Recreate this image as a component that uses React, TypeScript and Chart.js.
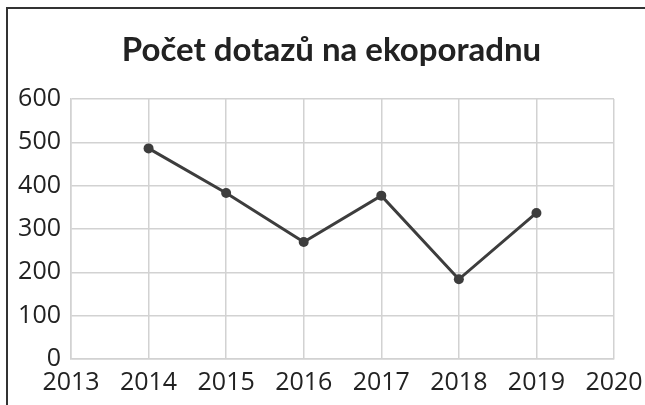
import React, { useEffect, useRef } from "react";
import { Chart, registerables } from "chart.js";

Chart.register(...registerables);

const TITLE = "Počet dotazů na ekoporadnu";
const years = [2014, 2015, 2016, 2017, 2018, 2019];
const queries = [486, 383, 270, 377, 184, 337];
const X_MIN = 2013;
const X_MAX = 2020;
const Y_MIN = 0;
const Y_MAX = 600;
const Y_STEP = 100;

const FONT_FAMILY = "'Open Sans', sans-serif";

const titlePlugin = {
  id: "customTitle",
  afterDraw(chart: any) {
    const { ctx, chartArea } = chart;
    ctx.save();
    ctx.font = "bold 33px Lato";
    ctx.fillStyle = "#222";
    ctx.textAlign = "center";
    ctx.textBaseline = "alphabetic";
    ctx.fillText(TITLE, (chartArea.left + chartArea.right) / 2 - 11, 61);
    ctx.restore();
  },
};

export default function App() {
  const ref = useRef<HTMLCanvasElement | null>(null);

  useEffect(() => {
    if (!ref.current) return;
    const chart = new Chart(ref.current, {
      type: "line",
      data: {
        datasets: [
          {
            data: years.map((y, i) => ({ x: y, y: queries[i] })),
            borderColor: "#3d3d3d",
            backgroundColor: "#3d3d3d",
            borderWidth: 3,
            pointRadius: 5,
            pointBackgroundColor: "#3d3d3d",
            pointBorderWidth: 0,
            tension: 0,
          },
        ],
      },
      options: {
        animation: false,
        responsive: false,
        maintainAspectRatio: false,
        layout: { padding: { left: 17, right: 31, top: 99, bottom: 9 } },
        plugins: {
          legend: { display: false },
          title: { display: false },
          tooltip: { enabled: false },
        },
        scales: {
          x: {
            type: "linear",
            min: X_MIN,
            max: X_MAX,
            ticks: {
              stepSize: 1,
              color: "#222",
              font: { family: FONT_FAMILY, size: 25 },
              padding: 9,
              maxRotation: 0,
              autoSkip: false,
              callback: (v: any) => String(v),
            },
            grid: { color: "#d2d2d2", lineWidth: 1.5, drawTicks: false },
            border: { display: true, color: "#d2d2d2", width: 1.5 },
            afterFit: (scale: any) => {
              scale.height = 37;
              scale.paddingLeft = 0;
              scale.paddingRight = 0;
            },
          },
          y: {
            min: Y_MIN,
            max: Y_MAX,
            ticks: {
              stepSize: Y_STEP,
              color: "#222",
              font: { family: FONT_FAMILY, size: 25 },
              padding: 10,
            },
            grid: { color: "#d2d2d2", lineWidth: 1.5, drawTicks: false },
            border: { display: true, color: "#d2d2d2", width: 1.5 },
            afterFit: (scale: any) => {
              scale.width = 54;
            },
          },
        },
      },
      plugins: [titlePlugin],
    });
    return () => chart.destroy();
  }, []);

  return (
    <div style={{ position: "absolute", left: 0, top: 0, width: 645, height: 405, background: "#fff" }}>
      <canvas ref={ref} width={645} height={405} style={{ position: "absolute", left: 0, top: 0 }} />
      <div
        style={{
          position: "absolute",
          left: 6,
          top: 7,
          width: 639,
          height: 398,
          boxSizing: "border-box",
          borderLeft: "2px solid #333",
          borderTop: "2px solid #333",
          pointerEvents: "none",
        }}
      />
    </div>
  );
}
